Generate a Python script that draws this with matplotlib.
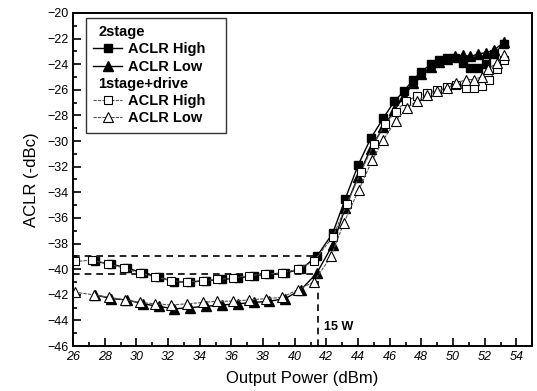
"""
ACLR vs output power, 2stage vs 1stage+drive.
"""

import matplotlib
matplotlib.use("Agg")
import matplotlib.pyplot as plt
from matplotlib.lines import Line2D
from matplotlib.ticker import MultipleLocator

plt.rcParams["font.family"] = ["Liberation Sans", "DejaVu Sans"]

# 2stage
hi2_x = [27.4, 28.4, 29.4, 30.4, 31.4, 32.4, 33.4, 34.4, 35.4, 36.4, 37.4, 38.4,
         39.4, 40.4, 41.4, 42.4, 43.2, 44.0, 44.8, 45.6, 46.3, 46.9, 47.5, 48.0,
         48.6, 49.1, 49.6, 50.1, 50.6, 51.1, 51.6, 52.1, 52.6, 53.2]
hi2_y = [-39.4, -39.6, -39.9, -40.3, -40.6, -41.0, -41.0, -40.9, -40.8, -40.7,
         -40.5, -40.4, -40.3, -40.0, -39.0, -37.2, -34.5, -31.9, -29.8, -28.2,
         -26.9, -26.1, -25.2, -24.6, -24.0, -23.7, -23.5, -23.5, -23.9, -24.3,
         -24.3, -24.0, -23.2, -22.4]
lo2_x = hi2_x
lo2_y = [-42.0, -42.3, -42.4, -42.7, -42.9, -43.1, -43.0, -42.9, -42.8, -42.7,
         -42.6, -42.5, -42.3, -41.6, -40.3, -38.1, -35.2, -32.8, -30.6, -28.9,
         -27.6, -26.5, -25.5, -24.8, -24.2, -23.8, -23.6, -23.4, -23.3, -23.4,
         -23.2, -23.1, -22.9, -22.3]

# 1stage+drive
hi1_x = [26.1, 27.2, 28.2, 29.2, 30.2, 31.2, 32.2, 33.2, 34.2, 35.1, 36.1, 37.1,
         38.1, 39.2, 40.2, 41.2, 42.4, 43.3, 44.2, 45.0, 45.7, 46.4, 47.0, 47.7,
         48.35, 49.0, 49.6, 50.2, 50.8, 51.3, 51.8, 52.3, 52.75, 53.2]
hi1_y = [-39.4, -39.3, -39.6, -39.9, -40.3, -40.6, -40.9, -41.0, -40.9, -40.8,
         -40.7, -40.5, -40.4, -40.3, -40.0, -39.4, -37.5, -34.9, -32.4, -30.2,
         -28.7, -27.7, -26.9, -26.5, -26.25, -26.0, -25.8, -25.6, -25.9, -25.9,
         -25.7, -25.2, -24.4, -23.7]
lo1_x = [26.1, 27.3, 28.3, 29.3, 30.2, 31.2, 32.2, 33.2, 34.2, 35.1, 36.1, 37.1,
         38.2, 39.2, 40.2, 41.2, 42.3, 43.1, 44.05, 44.9, 45.6, 46.4, 47.1, 47.7,
         48.35, 49.0, 49.6, 50.2, 50.8, 51.3, 51.8, 52.2, 52.75, 53.2]
lo1_y = [-41.8, -42.0, -42.2, -42.4, -42.6, -42.7, -42.8, -42.7, -42.6, -42.5,
         -42.5, -42.4, -42.3, -42.2, -41.6, -41.0, -39.0, -36.4, -33.8, -31.5,
         -29.9, -28.4, -27.4, -26.9, -26.4, -26.1, -25.9, -25.5, -25.2, -25.2,
         -25.0, -24.4, -23.9, -23.3]

# 15 W operating point
p15w = 41.5
aclr_hi_15w = -39.0
aclr_lo_15w = -40.4

fig = plt.figure(figsize=(5.37, 3.91), dpi=100)
ax = fig.add_axes([0.136, 0.115, 0.855, 0.852])

ax.plot(hi2_x, hi2_y, color="black", lw=1.0, marker="s", ms=6,
        mfc="black", mec="black")
ax.plot(lo2_x, lo2_y, color="black", lw=1.0, marker="^", ms=6.5,
        mfc="black", mec="black")
ax.plot(hi1_x, hi1_y, color="#555555", lw=0.8, ls=(0, (3, 1)), marker="s",
        ms=6, mfc="white", mec="black", mew=0.8)
ax.plot(lo1_x, lo1_y, color="#555555", lw=0.8, ls=(0, (3, 1)), marker="^",
        ms=6.5, mfc="white", mec="black", mew=0.8)

# dashed guide lines
ax.plot([26, p15w], [aclr_hi_15w, aclr_hi_15w], color="black", lw=1.2,
        ls=(0, (4, 3)), zorder=1)
ax.plot([26, p15w], [aclr_lo_15w, aclr_lo_15w], color="black", lw=1.2,
        ls=(0, (4, 3)), zorder=1)
ax.plot([p15w, p15w], [-46, aclr_lo_15w], color="black", lw=1.2,
        ls=(0, (4, 3)), zorder=1)
ax.text(p15w + 0.35, -44.5, "15 W", fontsize=9, fontweight="bold",
        va="center", ha="left")

ax.set_xlim(26, 55)
ax.set_ylim(-46, -20)
ax.xaxis.set_major_locator(MultipleLocator(2))
ax.xaxis.set_minor_locator(MultipleLocator(1))
ax.yaxis.set_major_locator(MultipleLocator(2))
ax.yaxis.set_minor_locator(MultipleLocator(1))
ax.tick_params(which="both", direction="in", width=1.2, labelsize=9)
ax.tick_params(which="major", length=6)
ax.tick_params(which="minor", length=3)
for lbl in ax.get_xticklabels():
    lbl.set_fontstyle("italic")
for sp in ax.spines.values():
    sp.set_linewidth(1.4)

ax.set_xlabel("Output Power (dBm)", fontsize=12, labelpad=6)
ax.set_ylabel("ACLR (-dBc)", fontsize=12, labelpad=6)

# legend with group headers
blank = Line2D([], [], ls="none", marker="none")
handles = [
    blank,
    Line2D([], [], color="black", lw=1.0, marker="s", ms=6, mfc="black"),
    Line2D([], [], color="black", lw=1.0, marker="^", ms=6.5, mfc="black"),
    blank,
    Line2D([], [], color="#555555", lw=0.8, ls=(0, (3, 1)), marker="s", ms=6,
           mfc="white", mec="black", mew=0.8),
    Line2D([], [], color="#555555", lw=0.8, ls=(0, (3, 1)), marker="^", ms=6.5,
           mfc="white", mec="black", mew=0.8),
]
labels = ["2stage", "ACLR High", "ACLR Low", "1stage+drive", "ACLR High",
          "ACLR Low"]
leg = ax.legend(handles, labels, loc="upper left", bbox_to_anchor=(0.028, 0.985),
                fontsize=10.5, frameon=True, fancybox=False, edgecolor="black",
                handlelength=2.0, handletextpad=0.4, labelspacing=0.22,
                borderpad=0.5, borderaxespad=0.0,
                prop={"weight": "bold", "size": 10.5})
leg.get_frame().set_linewidth(1.0)
for i, txt in enumerate(leg.get_texts()):
    if i in (0, 3):
        txt.set_x(-30)

fig.savefig("out.png", dpi=100)
